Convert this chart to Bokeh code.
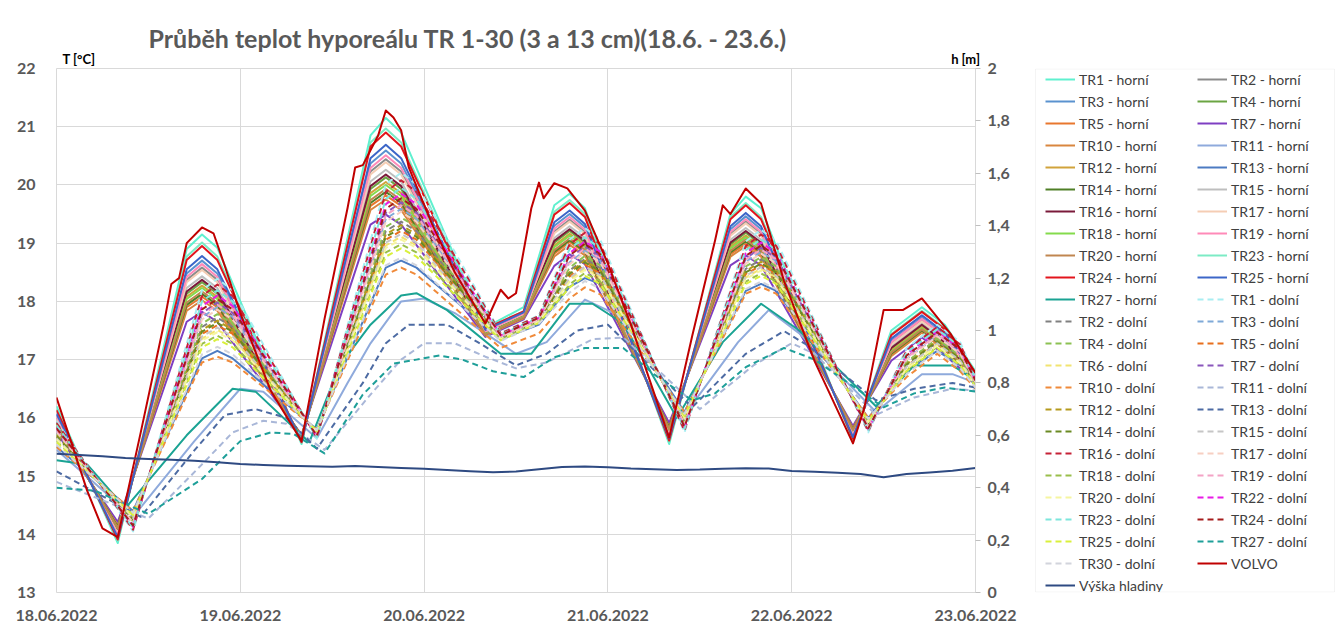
from bokeh.plotting import figure
from bokeh.models import Range1d, LinearAxis, FixedTicker, Legend, LegendItem, Title, BoxAnnotation
from bokeh.layouts import row
from bokeh.embed import file_html
from bokeh.resources import INLINE

FONT = "Lato"
TXT = "#595959"
GRID = "#D9D9D9"

title_text = "Průběh teplot hyporeálu TR 1-30 (3 a 13 cm)(18.6. - 23.6.)"
day_ticks = [0, 24, 48, 72, 96, 120]
day_labels = ["18.06.2022", "19.06.2022", "20.06.2022", "21.06.2022", "22.06.2022", "23.06.2022"]
t_ticks = [13, 14, 15, 16, 17, 18, 19, 20, 21, 22]
h_ticks = [0, 0.2, 0.4, 0.6, 0.8, 1, 1.2, 1.4, 1.6, 1.8, 2]
h_labels = ["0", "0,2", "0,4", "0,6", "0,8", "1", "1,2", "1,4", "1,6", "1,8", "2"]
unit_pos = [2.94, 118.7]
unit_labels = ["T [°C]", "h [m]"]

# time (hours from 18.06.2022 00:00) of the read points
t_s = [0, 8, 17, 19, 21, 32, 41, 43, 45, 56, 61, 65, 67, 69, 80, 88, 90, 92, 104, 109, 113, 116, 120]
t_d = [0, 10, 19, 21, 23, 34, 43, 45, 47, 58, 63, 67, 69, 71, 82, 90, 92, 94, 106, 111, 115, 118, 120]

tr1_h = [16.2, 13.85, 18.9, 19.15, 18.92, 15.55, 20.85, 21.15, 20.9, 17.55, 17.9, 19.65, 19.85, 19.6, 15.55, 19.5, 19.8, 19.6, 15.6, 17.5, 17.9, 17.6, 16.8]
tr2_h = [16.00, 14.00, 18.37, 18.58, 18.37, 15.62, 20.23, 20.44, 20.23, 17.48, 17.78, 19.20, 19.40, 19.19, 15.70, 19.16, 19.37, 19.16, 15.71, 17.28, 17.68, 17.38, 16.72]
tr3_h = [16.05, 13.97, 18.48, 18.70, 18.48, 15.61, 20.37, 20.59, 20.37, 17.50, 17.80, 19.30, 19.50, 19.28, 15.67, 19.24, 19.46, 19.24, 15.69, 17.32, 17.72, 17.42, 16.73]
tr4_h = [15.92, 14.07, 18.13, 18.33, 18.13, 15.65, 19.93, 20.13, 19.93, 17.45, 17.75, 19.01, 19.21, 19.01, 15.77, 18.98, 19.18, 18.98, 15.76, 17.18, 17.58, 17.28, 16.68]
tr5_h = [15.84, 14.14, 17.90, 18.08, 17.90, 15.68, 19.64, 19.82, 19.64, 17.42, 17.72, 18.82, 19.02, 18.84, 15.84, 18.81, 18.99, 18.81, 15.81, 17.08, 17.48, 17.18, 16.64]
tr7_h = [15.75, 14.21, 17.65, 17.82, 17.65, 15.71, 19.32, 19.49, 19.32, 17.39, 17.69, 18.61, 18.81, 18.64, 15.91, 18.62, 18.79, 18.62, 15.86, 16.98, 17.38, 17.08, 16.61]
tr10_h = [15.82, 14.15, 17.84, 18.02, 17.84, 15.69, 19.57, 19.75, 19.57, 17.41, 17.71, 18.77, 18.97, 18.79, 15.85, 18.77, 18.95, 18.77, 15.82, 17.06, 17.46, 17.16, 16.64]
tr11_h_t = [0, 10, 18, 24, 27, 34, 38, 41, 45, 48, 52, 56, 60, 64, 69, 74, 82, 89, 93, 97, 107, 113, 117, 120]
tr11_h = [15.45, 14.3, 15.6, 16.5, 16.45, 15.65, 16.6, 17.28, 18.0, 18.05, 17.8, 17.45, 17.1, 17.3, 18.03, 17.72, 16.05, 17.3, 17.85, 17.45, 16.1, 16.75, 16.75, 16.6]
tr12_h = [15.90, 14.09, 18.08, 18.27, 18.08, 15.66, 19.86, 20.05, 19.86, 17.44, 17.74, 18.96, 19.16, 18.97, 15.79, 18.94, 19.13, 18.94, 15.77, 17.16, 17.56, 17.26, 16.67]
tr13_h = [15.5, 14.4, 17.02, 17.15, 17.02, 15.8, 18.58, 18.7, 18.58, 17.35, 17.6, 18.25, 18.4, 18.3, 16.1, 18.18, 18.3, 18.18, 16.0, 16.8, 17.15, 16.9, 16.55]
tr14_h = [15.85, 14.13, 17.94, 18.13, 17.94, 15.68, 19.69, 19.88, 19.69, 17.43, 17.73, 18.85, 19.05, 18.86, 15.83, 18.84, 19.03, 18.84, 15.80, 17.10, 17.50, 17.20, 16.65]
tr15_h = [15.96, 14.04, 18.23, 18.43, 18.23, 15.64, 20.06, 20.26, 20.06, 17.46, 17.76, 19.09, 19.29, 19.09, 15.74, 19.06, 19.26, 19.06, 15.74, 17.22, 17.62, 17.32, 16.70]
tr16_h = [15.93, 14.06, 18.17, 18.37, 18.17, 15.65, 19.98, 20.18, 19.98, 17.46, 17.76, 19.04, 19.24, 19.04, 15.76, 19.01, 19.21, 19.01, 15.75, 17.20, 17.60, 17.30, 16.69]
tr17_h = [15.99, 14.02, 18.33, 18.54, 18.33, 15.63, 20.18, 20.39, 20.18, 17.48, 17.78, 19.17, 19.37, 19.16, 15.72, 19.13, 19.34, 19.13, 15.72, 17.26, 17.66, 17.36, 16.71]
tr18_h = [15.89, 14.10, 18.04, 18.23, 18.04, 15.66, 19.81, 20.00, 19.81, 17.44, 17.74, 18.93, 19.13, 18.94, 15.80, 18.91, 19.10, 18.91, 15.78, 17.14, 17.54, 17.24, 16.67]
tr19_h = [16.03, 13.99, 18.42, 18.64, 18.42, 15.61, 20.29, 20.51, 20.29, 17.49, 17.79, 19.25, 19.45, 19.23, 15.69, 19.19, 19.41, 19.19, 15.70, 17.30, 17.70, 17.40, 16.73]
tr20_h = [15.86, 14.11, 17.98, 18.17, 17.98, 15.67, 19.74, 19.93, 19.74, 17.43, 17.73, 18.88, 19.08, 18.89, 15.81, 18.87, 19.06, 18.87, 15.79, 17.12, 17.52, 17.22, 16.66]
tr23_h = [16.15, 13.89, 18.77, 19.01, 18.77, 15.57, 20.73, 20.97, 20.73, 17.53, 17.83, 19.54, 19.74, 19.50, 15.59, 19.45, 19.69, 19.45, 15.63, 17.44, 17.84, 17.54, 16.78]
tr24_h = [16.13, 13.91, 18.71, 18.95, 18.71, 15.58, 20.66, 20.90, 20.66, 17.53, 17.83, 19.49, 19.69, 19.45, 15.61, 19.41, 19.65, 19.41, 15.64, 17.42, 17.82, 17.52, 16.77]
tr25_h = [16.07, 13.95, 18.55, 18.78, 18.55, 15.60, 20.46, 20.69, 20.46, 17.51, 17.81, 19.36, 19.56, 19.33, 15.65, 19.29, 19.52, 19.29, 15.67, 17.36, 17.76, 17.46, 16.75]
tr27_h_t = [0, 4, 9, 17, 23, 26, 33, 37, 41, 45, 47, 51, 58, 62, 67, 70, 74, 81, 87, 92, 97, 107, 112, 117, 120]
tr27_h = [15.27, 15.2, 14.45, 15.7, 16.5, 16.45, 15.58, 16.9, 17.6, 18.1, 18.14, 17.85, 17.1, 17.1, 17.96, 17.96, 17.62, 16.0, 17.3, 17.96, 17.5, 16.2, 16.9, 16.9, 16.64]

tr1_d = [15.94, 14.05, 18.19, 18.39, 18.19, 15.64, 20.01, 20.21, 20.01, 17.46, 17.76, 19.06, 19.26, 19.06, 15.75, 19.03, 19.23, 19.03, 15.75, 17.20, 17.60, 17.30, 16.69]
tr2_d = [15.71, 14.24, 17.56, 17.72, 17.56, 15.73, 19.21, 19.37, 19.21, 17.38, 17.68, 18.53, 18.73, 18.57, 15.94, 18.56, 18.72, 18.56, 15.88, 16.94, 17.34, 17.04, 16.59]
tr3_d = [15.77, 14.19, 17.73, 17.90, 17.73, 15.70, 19.42, 19.59, 19.42, 17.40, 17.70, 18.67, 18.87, 18.70, 15.89, 18.68, 18.85, 18.68, 15.84, 17.01, 17.41, 17.11, 16.62]
tr4_d = [15.73, 14.22, 17.62, 17.78, 17.62, 15.72, 19.28, 19.44, 19.28, 17.38, 17.68, 18.58, 18.78, 18.62, 15.92, 18.60, 18.76, 18.60, 15.87, 16.96, 17.36, 17.06, 16.60]
tr5_d = [15.67, 14.27, 17.44, 17.59, 17.44, 15.74, 19.06, 19.21, 19.06, 17.36, 17.66, 18.43, 18.63, 18.48, 15.97, 18.47, 18.62, 18.47, 15.90, 16.89, 17.29, 16.99, 16.57]
tr6_d = [15.64, 14.29, 17.36, 17.51, 17.36, 15.75, 18.96, 19.11, 18.96, 17.35, 17.65, 18.37, 18.57, 18.42, 15.99, 18.41, 18.56, 18.41, 15.92, 16.86, 17.26, 16.96, 16.56]
tr7_d = [15.80, 14.16, 17.80, 17.98, 17.80, 15.69, 19.52, 19.70, 19.52, 17.41, 17.71, 18.74, 18.94, 18.76, 15.86, 18.74, 18.92, 18.74, 15.83, 17.04, 17.44, 17.14, 16.63]
tr10_d = [15.50, 14.40, 16.95, 17.05, 16.95, 15.80, 18.46, 18.58, 18.46, 17.20, 17.45, 18.05, 18.24, 18.12, 16.10, 18.13, 18.25, 18.13, 16.00, 16.70, 17.10, 16.80, 16.50]
tr11_d_t = [0, 12, 19, 23, 27, 30, 35, 41, 45, 48, 52, 56, 60, 64, 70, 74, 84, 91, 96, 99, 107, 112, 117, 120]
tr11_d = [14.9, 14.27, 15.2, 15.75, 15.95, 15.9, 15.45, 16.4, 17.0, 17.28, 17.28, 17.05, 16.85, 16.95, 17.35, 17.38, 16.15, 16.9, 17.28, 17.1, 16.05, 16.35, 16.5, 16.47]
tr12_d = [15.70, 14.25, 17.51, 17.67, 17.51, 15.73, 19.15, 19.31, 19.15, 17.37, 17.67, 18.50, 18.70, 18.54, 15.95, 18.52, 18.68, 18.52, 15.89, 16.92, 17.32, 17.02, 16.58]
tr13_d_t = [0, 11, 18, 22, 26, 30, 34, 40, 43, 46, 51, 55, 60, 64, 68, 72, 83, 90, 95, 98, 107, 112, 117, 120]
tr13_d = [15.08, 14.3, 15.44, 16.05, 16.15, 16.0, 15.47, 16.6, 17.28, 17.6, 17.6, 17.3, 16.9, 17.1, 17.5, 17.6, 16.18, 17.1, 17.49, 17.25, 16.3, 16.5, 16.6, 16.52]
tr14_d = [15.68, 14.26, 17.48, 17.63, 17.48, 15.74, 19.11, 19.26, 19.11, 17.37, 17.67, 18.47, 18.67, 18.52, 15.96, 18.50, 18.65, 18.50, 15.90, 16.91, 17.31, 17.01, 16.58]
tr15_d = [15.65, 14.28, 17.40, 17.55, 17.40, 15.75, 19.01, 19.16, 19.01, 17.36, 17.66, 18.40, 18.60, 18.45, 15.98, 18.44, 18.59, 18.44, 15.91, 16.88, 17.28, 16.98, 16.57]
tr16_d = [15.91, 14.08, 18.09, 18.29, 18.09, 15.66, 19.88, 20.08, 19.88, 17.45, 17.75, 18.98, 19.18, 18.98, 15.78, 18.95, 19.15, 18.95, 15.77, 17.16, 17.56, 17.26, 16.67]
tr17_d = [15.76, 14.20, 17.69, 17.86, 17.69, 15.71, 19.37, 19.54, 19.37, 17.39, 17.69, 18.64, 18.84, 18.67, 15.90, 18.65, 18.82, 18.65, 15.85, 17.00, 17.40, 17.10, 16.61]
tr18_d = [15.61, 14.32, 17.27, 17.41, 17.27, 15.76, 18.84, 18.98, 18.84, 17.34, 17.64, 18.29, 18.49, 18.35, 16.02, 18.34, 18.48, 18.34, 15.94, 16.82, 17.22, 16.92, 16.55]
tr19_d = [15.79, 14.17, 17.77, 17.94, 17.77, 15.70, 19.48, 19.65, 19.48, 17.40, 17.70, 18.71, 18.91, 18.74, 15.87, 18.72, 18.89, 18.72, 15.84, 17.03, 17.43, 17.13, 16.62]
tr20_d = [15.63, 14.30, 17.33, 17.47, 17.33, 15.76, 18.92, 19.06, 18.92, 17.35, 17.65, 18.34, 18.54, 18.40, 16.00, 18.39, 18.53, 18.39, 15.93, 16.84, 17.24, 16.94, 16.55]
tr22_d = [15.84, 14.13, 17.92, 18.10, 17.92, 15.68, 19.67, 19.85, 19.67, 17.42, 17.72, 18.83, 19.03, 18.85, 15.83, 18.83, 19.01, 18.83, 15.80, 17.09, 17.49, 17.19, 16.65]
tr23_d = [15.87, 14.11, 18.00, 18.19, 18.00, 15.67, 19.76, 19.95, 19.76, 17.43, 17.73, 18.90, 19.10, 18.91, 15.81, 18.88, 19.07, 18.88, 15.79, 17.12, 17.52, 17.22, 16.66]
tr24_d = [15.82, 14.15, 17.86, 18.04, 17.86, 15.69, 19.59, 19.77, 19.59, 17.42, 17.72, 18.79, 18.99, 18.81, 15.85, 18.78, 18.96, 18.78, 15.82, 17.07, 17.47, 17.17, 16.64]
tr25_d = [15.58, 14.33, 17.21, 17.35, 17.21, 15.77, 18.77, 18.91, 18.77, 17.33, 17.63, 18.24, 18.44, 18.30, 16.03, 18.30, 18.44, 18.30, 15.95, 16.80, 17.20, 16.90, 16.54]
tr27_d_t = [0, 5, 12, 19, 24, 28, 31, 35, 40, 44, 47, 50, 53, 57, 61, 65, 69, 74, 78, 83, 86, 90, 95, 99, 108, 112, 116, 120]
tr27_d = [14.8, 14.75, 14.35, 14.95, 15.6, 15.75, 15.72, 15.39, 16.4, 16.93, 17.0, 17.07, 17.0, 16.8, 16.7, 17.04, 17.2, 17.2, 16.75, 16.3, 16.42, 16.87, 17.2, 17.0, 16.18, 16.42, 16.52, 16.45]
tr30_d = [15.54, 14.37, 17.09, 17.22, 17.09, 15.79, 18.62, 18.75, 18.62, 17.32, 17.62, 18.15, 18.35, 18.22, 16.07, 18.21, 18.34, 18.21, 15.98, 16.75, 17.15, 16.85, 16.52]

volvo_t = [0, 4, 6, 8, 11, 14, 15, 16, 17, 19, 20.5, 22, 24, 28, 32, 35, 38, 39, 40, 42, 43, 44, 45, 46, 49, 52, 56, 58, 59, 60,
           62, 63, 63.6, 65, 66.7, 69, 72, 75, 80, 83, 86, 87, 88, 90, 92, 95, 99, 104, 105.5, 108, 110.5, 113, 116.7, 120]
volvo = [16.35, 14.75, 14.1, 13.95, 15.75, 17.6, 18.3, 18.4, 19.0, 19.27, 19.17, 18.6, 17.8, 16.46, 15.6, 17.7, 19.6, 20.3, 20.34, 20.85,
         21.28, 21.16, 20.94, 20.3, 19.34, 18.5, 17.62, 18.2, 18.05, 18.14, 19.6, 20.04, 19.77, 20.03, 19.94, 19.56, 18.65, 17.6, 15.66, 17.4,
         19.05, 19.65, 19.5, 19.94, 19.68, 18.35, 16.97, 15.56, 16.18, 17.85, 17.85, 18.05, 17.45, 16.77]

hladina_t = list(range(0, 121, 3))
hladina = [0.530, 0.525, 0.520, 0.513, 0.510, 0.507, 0.503, 0.497, 0.490, 0.487, 0.484, 0.482, 0.480, 0.483, 0.479, 0.475,
           0.472, 0.468, 0.463, 0.459, 0.462, 0.470, 0.479, 0.481, 0.478, 0.473, 0.470, 0.468, 0.469, 0.472, 0.474, 0.473,
           0.464, 0.461, 0.457, 0.452, 0.440, 0.452, 0.458, 0.465, 0.475]

D = "6 4"
series = [
    ("TR1 - horní", t_s, tr1_h, "#5FF0CF", "solid"),
    ("TR2 - horní", t_s, tr2_h, "#8C8C8C", "solid"),
    ("TR3 - horní", t_s, tr3_h, "#5A92CF", "solid"),
    ("TR4 - horní", t_s, tr4_h, "#6BA543", "solid"),
    ("TR5 - horní", t_s, tr5_h, "#E8772E", "solid"),
    ("TR7 - horní", t_s, tr7_h, "#7E3FC2", "solid"),
    ("TR10 - horní", t_s, tr10_h, "#D9863F", "solid"),
    ("TR11 - horní", tr11_h_t, tr11_h, "#8FAADC", "solid"),
    ("TR12 - horní", t_s, tr12_h, "#D1A33B", "solid"),
    ("TR13 - horní", t_d, tr13_h, "#4C7BC2", "solid"),
    ("TR14 - horní", t_s, tr14_h, "#4F7F26", "solid"),
    ("TR15 - horní", t_s, tr15_h, "#BEBEBE", "solid"),
    ("TR16 - horní", t_s, tr16_h, "#7A1A3A", "solid"),
    ("TR17 - horní", t_s, tr17_h, "#F5CDB4", "solid"),
    ("TR18 - horní", t_s, tr18_h, "#84DB4C", "solid"),
    ("TR19 - horní", t_s, tr19_h, "#FF8AB8", "solid"),
    ("TR20 - horní", t_s, tr20_h, "#C08650", "solid"),
    ("TR23 - horní", t_s, tr23_h, "#7CEBC5", "solid"),
    ("TR24 - horní", t_s, tr24_h, "#E3141C", "solid"),
    ("TR25 - horní", t_s, tr25_h, "#3C66C8", "solid"),
    ("TR27 - horní", tr27_h_t, tr27_h, "#1AA393", "solid"),
    ("TR1 - dolní", t_d, tr1_d, "#A8EEF2", D),
    ("TR2 - dolní", t_d, tr2_d, "#808080", D),
    ("TR3 - dolní", t_d, tr3_d, "#7FA9D8", D),
    ("TR4 - dolní", t_d, tr4_d, "#8CC152", D),
    ("TR5 - dolní", t_d, tr5_d, "#E86F1C", D),
    ("TR6 - dolní", t_d, tr6_d, "#F2E470", D),
    ("TR7 - dolní", t_d, tr7_d, "#8A57BC", D),
    ("TR10 - dolní", t_d, tr10_d, "#F08A3A", D),
    ("TR11 - dolní", tr11_d_t, tr11_d, "#A9B7D8", D),
    ("TR12 - dolní", t_d, tr12_d, "#B59A1C", D),
    ("TR13 - dolní", tr13_d_t, tr13_d, "#4D6BA3", D),
    ("TR14 - dolní", t_d, tr14_d, "#6A8A23", D),
    ("TR15 - dolní", t_d, tr15_d, "#C6C6C6", D),
    ("TR16 - dolní", t_d, tr16_d, "#C62136", D),
    ("TR17 - dolní", t_d, tr17_d, "#F7CFC2", D),
    ("TR18 - dolní", t_d, tr18_d, "#99BE4A", D),
    ("TR19 - dolní", t_d, tr19_d, "#F4A3C6", D),
    ("TR20 - dolní", t_d, tr20_d, "#F6F5A0", D),
    ("TR22 - dolní", t_d, tr22_d, "#E81BE6", D),
    ("TR23 - dolní", t_d, tr23_d, "#7DE6DC", D),
    ("TR24 - dolní", t_d, tr24_d, "#A51C1C", D),
    ("TR25 - dolní", t_d, tr25_d, "#D9F03C", D),
    ("TR27 - dolní", tr27_d_t, tr27_d, "#1E9F99", D),
    ("TR30 - dolní", t_d, tr30_d, "#D2D4DC", D),
    ("VOLVO", volvo_t, volvo, "#C00000", "solid"),
]
water_name = "Výška hladiny"
water_color = "#2E4A82"

# ---------------- main chart ----------------
p = figure(width=1030, height=627, x_range=Range1d(0, 120), y_range=Range1d(13, 22),
           output_backend="svg", toolbar_location=None, title=None,
           min_border_left=56, min_border_right=55, min_border_top=68, min_border_bottom=35,
           background_fill_color="white", border_fill_color="white", outline_line_color=GRID)

xax = p.xaxis[0]
yax = p.yaxis[0]
xax.ticker = FixedTicker(ticks=day_ticks)
xax.major_label_overrides = dict(zip(day_ticks, day_labels))
yax.ticker = FixedTicker(ticks=t_ticks)
p.xgrid[0].ticker = FixedTicker(ticks=day_ticks)
p.ygrid[0].ticker = FixedTicker(ticks=t_ticks)
p.xgrid.grid_line_color = GRID
p.ygrid.grid_line_color = GRID

for ax in (xax, yax):
    ax.axis_line_color = None
    ax.major_tick_line_color = None
    ax.minor_tick_line_color = None
    ax.major_label_text_font = FONT
    ax.major_label_text_font_style = "bold"
    ax.major_label_text_font_size = "16px"
    ax.major_label_text_color = TXT
xax.major_label_standoff = 11
yax.major_label_standoff = 15

p.extra_y_ranges = {"h": Range1d(0, 2)}
rax = LinearAxis(y_range_name="h", ticker=FixedTicker(ticks=h_ticks),
                 major_label_overrides=dict(zip(h_ticks, h_labels)))
rax.axis_line_color = GRID
rax.major_tick_line_color = "#BFBFBF"
rax.major_tick_out = 5
rax.major_tick_in = 0
rax.minor_tick_line_color = None
rax.major_label_standoff = 7
rax.major_label_text_font = FONT
rax.major_label_text_font_style = "bold"
rax.major_label_text_font_size = "16px"
rax.major_label_text_color = TXT
p.add_layout(rax, "right")

uax = LinearAxis(ticker=FixedTicker(ticks=unit_pos), major_label_overrides=dict(zip(unit_pos, unit_labels)))
uax.axis_line_color = None
uax.major_tick_line_color = None
uax.minor_tick_line_color = None
uax.major_label_standoff = -4
uax.major_label_text_font = FONT
uax.major_label_text_font_style = "bold"
uax.major_label_text_font_size = "13px"
uax.major_label_text_color = "#000000"
p.add_layout(uax, "above")

p.add_layout(Title(text=title_text, align="left", offset=92, standoff=-10, text_font=FONT,
                   text_font_style="bold", text_font_size="25px", text_color=TXT), "above")

renderers = []
for name, tt, vv, col, dash in series:
    r = p.line(x=tt, y=vv, line_color=col, line_width=2, line_dash=dash, line_join="round")
    renderers.append((name, r, col, dash))
rw = p.line(x=hladina_t, y=hladina, line_color=water_color, line_width=2, line_join="round", y_range_name="h")
renderers.append((water_name, rw, water_color, "solid"))

# ---------------- legend panel (its frame is aligned with the chart frame: 524 px tall) ----------------
lf = figure(width=306, height=627, x_range=Range1d(0, 306), y_range=Range1d(0, 524),
            output_backend="svg", toolbar_location=None, title=None, min_border=0,
            outline_line_color=None, x_axis_location=None, y_axis_location=None,
            background_fill_color="white", border_fill_color="white")
lf.grid.visible = False
lf.add_layout(BoxAnnotation(left=5, right=304, bottom=0.5, top=523.5, fill_alpha=0,
                            line_color=GRID, line_width=1))

items = []
for name, r, col, dash in renderers:
    dummy = lf.line(x=[-50, -40], y=[-50, -50], line_color=col, line_width=2, line_dash=dash)
    items.append(LegendItem(label=name, renderers=[dummy]))
left_items = items[0::2]
right_items = items[1::2]

def make_legend(its, loc):
    return Legend(items=its, location=loc, orientation="vertical", padding=0, spacing=0, margin=0,
                  glyph_width=30, glyph_height=22, label_height=22, label_standoff=4,
                  label_text_font=FONT, label_text_font_size="14px", label_text_color="#404040",
                  border_line_color=None, background_fill_alpha=0)

lf.add_layout(make_legend(left_items, (15, -4)), "center")
lf.add_layout(make_legend(right_items, (167, 18)), "center")

layout = row(p, lf)
open("out.html", "w").write(file_html(layout, INLINE, title="Průběh teplot"))
